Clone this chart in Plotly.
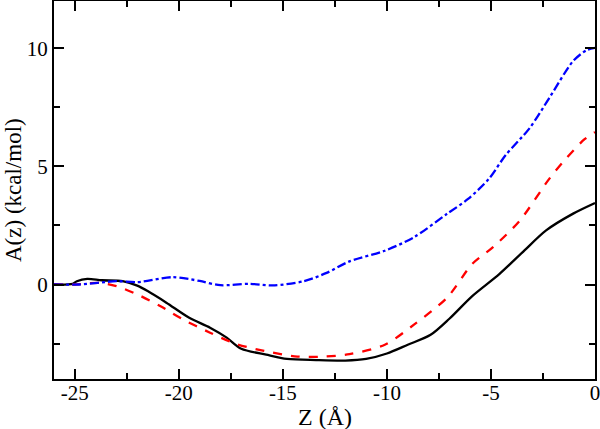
import plotly.graph_objects as go

# Black solid
z_black = [-26, -25.1, -24.9, -24.4, -23.7, -22.7, -22.0, -21.5, -20.6, -19.5, -18.5, -17.7, -17.0, -15.8,
           -14.8, -13.4, -12.0, -11.0, -10.0, -9.0, -7.9, -7.0, -5.9, -4.6, -3.5, -2.35, -1.05, 0.0]
a_black = [0.0, 0.03, 0.14, 0.24, 0.18, 0.14, -0.05, -0.28, -0.77, -1.41, -1.83, -2.25, -2.72, -2.97,
           -3.15, -3.2, -3.22, -3.15, -2.92, -2.55, -2.13, -1.45, -0.49, 0.44, 1.35, 2.29, 3.0, 3.45]

# Red dashed
z_red = [-26, -25.0, -23.8, -23.0, -22.0, -20.9, -19.8, -18.5, -17.2, -15.9, -14.3, -13.0, -11.8,
         -10.1, -8.7, -7.1, -5.9, -4.9, -3.6, -2.2, -1.4, -0.5, 0.0]
a_red = [0.0, 0.0, 0.07, -0.07, -0.42, -0.91, -1.48, -2.04, -2.53, -2.81, -3.05, -3.05, -2.95,
         -2.55, -1.7, -0.55, 0.87, 1.58, 2.72, 4.47, 5.32, 6.15, 6.45]

# Blue dash-dot
z_blue = [-26, -24.8, -23.0, -22.0, -20.3, -19.0, -18.0, -16.6, -15.5, -14.0, -12.9, -11.8, -10.1, -8.7,
          -7.1, -6.1, -5.1, -4.3, -3.15, -2.2, -1.05, -0.4, 0.0]
a_blue = [0.0, 0.0, 0.14, 0.1, 0.31, 0.15, -0.03, 0.03, -0.04, 0.14, 0.49, 0.98, 1.43, 2.0,
          3.0, 3.62, 4.47, 5.47, 6.61, 7.89, 9.46, 9.92, 10.02]

x_ticks = [-25, -20, -15, -10, -5, 0]
y_ticks = [0, 5, 10]
x_title = "Z (Å)"
y_title = "A(z) (kcal/mol)"

fig = go.Figure()
fig.add_trace(go.Scatter(x=z_black, y=a_black, mode="lines", line=dict(color="black", width=2.3, shape="spline", smoothing=0.8)))
fig.add_trace(go.Scatter(x=z_red, y=a_red, mode="lines", line=dict(color="#ff0000", width=2.3, dash="dash", shape="spline", smoothing=0.8)))
fig.add_trace(go.Scatter(x=z_blue, y=a_blue, mode="lines", line=dict(color="#0000ff", width=2.3, dash="dashdot", shape="spline", smoothing=0.8)))

font = "Liberation Serif, Times New Roman, serif"
axis_common = dict(showline=True, linecolor="black", linewidth=2, mirror="ticks",
                   ticks="inside", ticklen=10, tickwidth=2, tickcolor="black",
                   showgrid=False, zeroline=False, ticklabeloverflow="allow",
                   tickfont=dict(family=font, size=21, color="black"))
fig.update_xaxes(range=[-26, 0], tickvals=x_ticks, ticktext=[str(v) for v in x_ticks],
                 minor=dict(ticks="inside", ticklen=6, tickwidth=2, tickcolor="black", dtick=2.5, tick0=0),
                 ticklabelstandoff=-6, **axis_common)
fig.update_yaxes(range=[-4, 12], tickvals=y_ticks, ticktext=[str(v) for v in y_ticks],
                 minor=dict(ticks="inside", ticklen=6, tickwidth=2, tickcolor="black", dtick=2.5, tick0=0),
                 **axis_common)
fig.add_annotation(text=x_title, xref="paper", yref="paper", x=0.5, y=0, yanchor="middle",
                   yshift=-38, showarrow=False, font=dict(family=font, size=24, color="black"))
fig.add_annotation(text=y_title, xref="paper", yref="paper", x=0, y=0.5, xanchor="center",
                   xshift=-41, textangle=-90, showarrow=False, font=dict(family=font, size=23, color="black"))
fig.update_layout(width=600, height=429, showlegend=False,
                  margin=dict(l=54, r=5, t=1, b=50, autoexpand=False),
                  plot_bgcolor="white", paper_bgcolor="white")
fig.write_html("out.html", config={"displayModeBar": False},
               post_script="document.body.style.margin='0';document.body.style.padding='0';document.body.style.overflow='hidden';")
